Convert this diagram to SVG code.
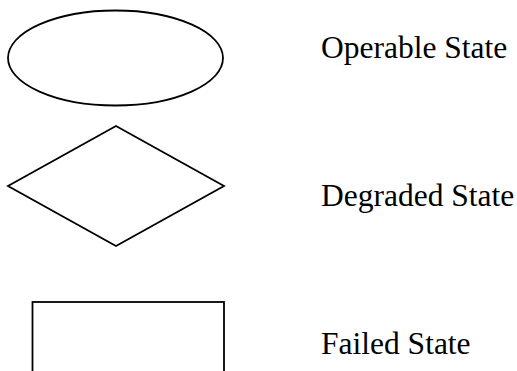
<svg xmlns="http://www.w3.org/2000/svg" width="517" height="371" viewBox="0 0 517 371">
<style>
.shape{fill:#fff;stroke:#000;stroke-width:1.8}
.lbl{font-family:"Liberation Serif","Times New Roman",serif;font-size:31.5px;fill:#000}
</style>
<rect width="517" height="371" fill="#fff"/>
<g id="operable">
<ellipse class="shape" cx="115.5" cy="58" rx="107.5" ry="47.5"/>
<text class="lbl" x="321" y="58">Operable State</text>
</g>
<g id="degraded">
<polygon class="shape" points="116,126 224,186 116,246 8,186"/>
<text class="lbl" x="321" y="205.5">Degraded State</text>
</g>
<g id="failed">
<rect class="shape" x="32.5" y="302" width="191.5" height="90"/>
<text class="lbl" x="321" y="354">Failed State</text>
</g>
<g id="connectors"></g>
</svg>
